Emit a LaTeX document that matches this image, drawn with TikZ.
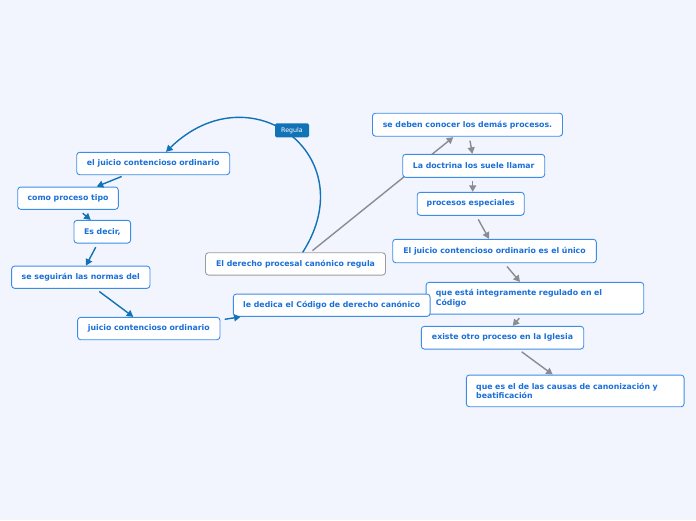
\documentclass[tikz,border=0pt]{standalone}
\usepackage{fontspec}
\setmainfont{DejaVu Sans}
\usetikzlibrary{arrows.meta}
\definecolor{bgc}{HTML}{F2F5FD}
\definecolor{boxb}{HTML}{3B8DE8}
\definecolor{txtc}{HTML}{1A6FD8}
\definecolor{linkb}{HTML}{1172B6}
\definecolor{linkg}{HTML}{8A8C90}
\definecolor{mainb}{HTML}{9A9CA0}
\tikzset{
  box/.style={draw=boxb, fill=white, line width=0.9pt, rounded corners=3pt, inner sep=0pt,
    text=txtc, font=\fontsize{7.8}{9.7}\selectfont\bfseries, align=center},
  twobox/.style={box, align=left, text width=#1},
  mainbox/.style={box, draw=mainb},
  lbl/.style={fill=linkb, rounded corners=1.5pt, inner sep=0pt, text=white,
    font=\fontsize{6.3}{7}\selectfont, minimum width=34pt, minimum height=14pt},
  blink/.style={draw=linkb, line width=1.4pt, -{Triangle[length=6.5pt,width=7pt]}},
  glink/.style={draw=linkg, line width=1.4pt, -{Triangle[length=6.5pt,width=7pt]}},
}
\begin{document}
\begin{tikzpicture}[x=1pt,y=-1pt]
\useasboundingbox (0,0) rectangle (696,520);
\fill[bgc] (0,0) rectangle (696,520);

% grey branch line behind boxes
\node[mainbox, minimum width=180pt, minimum height=22.3pt] (main) at (295.5,263.9) {El derecho procesal canónico regula};
\node[box, minimum width=190pt, minimum height=23pt] (deben) at (467.5,124.7) {se deben conocer los demás procesos.};
\draw[glink] ([shift={(17,-1.7)}]main.north) -- ([shift={(-14.2,0.5)}]deben.south);
\node[box, minimum width=142pt, minimum height=23pt] (doctrina) at (473.7,165.8) {La doctrina los suele llamar};
\node[box, minimum width=107pt, minimum height=23pt] (especiales) at (470.7,203.8) {procesos especiales};
\node[box, minimum width=203.6pt, minimum height=23.4pt] (unico) at (494.5,251) {El juicio contencioso ordinario es el único};
\node[twobox=198pt, minimum width=217.7pt, minimum height=31.7pt] (integ) at (534.9,298.2) {que está integramente regulado en el\\Código};
\node[box, minimum width=162.4pt, minimum height=22.7pt] (existe) at (502.5,337.7) {existe otro proceso en la Iglesia};
\node[twobox=198pt, minimum width=217.7pt, minimum height=31.7pt] (causas) at (575.2,390.9) {que es el de las causas de canonización y\\beatificación};
\node[box, minimum width=196.7pt, minimum height=22.3pt] (dedica) at (331.7,305.2) {le dedica el Código de derecho canónico};

\node[box, minimum width=153pt, minimum height=22.4pt] (ejo) at (153.2,163.5) {el juicio contencioso ordinario};
\node[box, minimum width=100.6pt, minimum height=22.3pt] (tipo) at (68,198.2) {como proceso tipo};
\node[box, minimum width=56.7pt, minimum height=22.7pt] (decir) at (102.3,231.7) {Es decir,};
\node[box, minimum width=138.3pt, minimum height=22.3pt] (normas) at (80.8,277.2) {se seguirán las normas del};
\node[box, minimum width=142.3pt, minimum height=22.4pt] (jco) at (148.8,328.5) {juicio contencioso ordinario};

% grey connectors
\draw[glink] ([shift={(2.5,4)}]deben.south) -- ([shift={(-1.4,0)}]doctrina.north);
\draw[glink] ([shift={(-1,3.7)}]doctrina.south) -- ([shift={(2,0)}]especiales.north);
\draw[glink] ([shift={(7.6,3.7)}]especiales.south) -- ([shift={(-5.5,0)}]unico.north);
\draw[glink] ([shift={(12.5,3.3)}]unico.south) -- ([shift={(-14.9,0)}]integ.north);
\draw[glink] ([shift={(-15.6,3.7)}]integ.south) -- ([shift={(10.2,0)}]existe.north);
\draw[glink] ([shift={(19.2,2.3)}]existe.south) -- ([shift={(-22.5,0)}]causas.north);

% blue connectors
\draw[blink] ([shift={(7.2,0)}]main.north) .. controls (365,155) and (250,70) .. ([shift={(12.8,0)}]ejo.north);
\node[lbl] (regula) at (292,130.3) {Regula};
\draw[blink] ([shift={(-31.5,1.3)}]ejo.south) -- ([shift={(28.7,0)}]tipo.north);
\draw[blink] ([shift={(14.7,3.4)}]tipo.south) -- ([shift={(-11.6,0)}]decir.north);
\draw[blink] ([shift={(-6.6,3.7)}]decir.south) -- ([shift={(5.2,0)}]normas.north);
\draw[blink] ([shift={(18.5,2.7)}]normas.south) -- ([shift={(-15.5,0)}]jco.north);
\draw[blink] ([shift={(4.3,-9.2)}]jco.east) -- ([shift={(7.7,0)}]dedica.south west);
\end{tikzpicture}
\end{document}
